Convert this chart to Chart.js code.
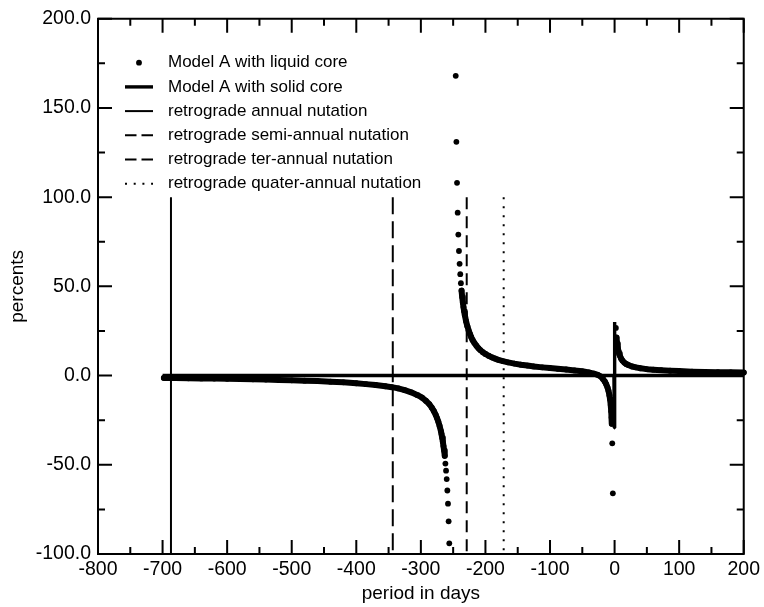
<!DOCTYPE html>
<html>
<head>
<meta charset="utf-8">
<script src="https://cdn.jsdelivr.net/npm/chart.js@4/dist/chart.umd.min.js"></script>
<style>html,body{margin:0;padding:0;background:#fff}canvas{display:block}</style>
</head>
<body>
<canvas id="c" width="764" height="607"></canvas>
<script>
// ---------------- data ----------------
const liquidX = [
  -698,-680,-660,-640,-620,-600,-580,-560,-540,-520,
  -500,-480,-460,-440,-420,-400,-385,-370,-355,-345,
  -335,-325,-315,-305,-298,-292,-287,-283,-280,-277,
  -275,-273,-271,-269,-268,-267,-266,-265,-264,-263,
  -262,-261,-260,-259,-258,-257,-256,
  -246,-245,-244,-243,-242,-241,-240,-239,-238,-237,
  -236,-235,-234,-233,-232,-230,-228,-226,-224,-222,
  -220,-217,-214,-211,-208,-204,-200,-195,-190,-185,
  -180,-173,-165,-155,-145,-135,-125,-112,-100,-88,
  -75,-62,-50,-40,-32,-26,-21,-18,-15,-13,
  -11,-9.5,-8,-7,-6,-5.2,-4.6,-4.2,-3.6,-2.7,
  2,3,4,5,6,7,8,10,12,15,
  18,22,27,33,40,50,60,72,86,100,
  120,140,160,180,200
];
const liquidY = [
  -1.3,-1.4,-1.5,-1.6,-1.7,-1.8,-1.95,-2.1,-2.25,-2.45,
  -2.65,-2.85,-3.1,-3.4,-3.8,-4.3,-4.8,-5.3,-6.0,-6.5,
  -7.2,-8.2,-9.4,-11.0,-12.4,-14.2,-16.0,-18.0,-19.8,-22.0,
  -23.8,-25.8,-28.2,-31.0,-32.8,-34.8,-37.0,-39.5,-42.0,-45.0,
  -49.3,-53.3,-58.0,-64.4,-71.8,-81.7,-94.0,
  168,131,108,91.3,79,69.8,62.6,56.8,51.8,47.6,
  44.0,41.0,38.4,36.0,34.0,30.5,27.7,25.3,23.3,21.5,
  20.0,18.2,16.7,15.4,14.3,13.1,12.1,11.1,10.2,9.5,
  8.8,8.1,7.4,6.7,6.1,5.6,5.1,4.6,4.2,3.8,
  3.4,2.9,2.4,1.8,1.1,0.4,-0.6,-1.9,-3.4,-4.8,
  -6.6,-8.5,-11,-13.3,-16.5,-20,-23.5,-27,-38,-66,
  26.7,21.3,17.9,15.5,13.7,12.3,11.3,9.6,8.5,7.3,
  6.5,5.8,5.1,4.6,4.1,3.6,3.3,3.0,2.7,2.5,
  2.2,2.0,1.9,1.8,1.7
];
const solidX = [-700, -1, -0.4, -0.1, 0.3, 200];
const solidY = [0, 0, -29.3, 30, 0, 0];
const nutationPeriods = [-687, -343.5, -229, -171.75];
const nutationSpan = [100, -100];
const seriesLabels = [
  'Model A with liquid core',
  'Model A with solid core',
  'retrograde annual nutation',
  'retrograde semi-annual nutation',
  'retrograde ter-annual nutation',
  'retrograde quater-annual nutation'
];
const xRange = [-800, 200];
const yRange = [-100, 200];
const xStep = 100;
const yStep = 50;

// ---------------- build ----------------
const FONT = '"Liberation Sans", Arial, Helvetica, sans-serif';
const toPts = (xs, ys) => xs.map((x, i) => ({x: x, y: ys[i]}));
const vline = (p) => nutationSpan.map(v => ({x: p, y: v}));

const nutationStyles = [
  {dash: [], legendDash: []},
  {dash: [17, 7], legendDash: [11.5, 5]},
  {dash: [12, 7], legendDash: [11.5, 5]},
  {dash: [2, 7], legendDash: [2, 6.7]}
];

const datasets = [
  {
    label: seriesLabels[0],
    data: toPts(liquidX, liquidY),
    showLine: true,
    borderColor: '#000',
    borderWidth: 6,
    borderJoinStyle: 'round',
    borderCapStyle: 'round',
    pointRadius: 2.9,
    pointBorderWidth: 0,
    pointBackgroundColor: '#000',
    pointHoverRadius: 2.9,
    clip: 4,
    legendMarker: 'dot',
    segment: {
      borderColor: c => Math.abs(c.p1.y - c.p0.y) > 6.5 ? 'rgba(0,0,0,0)' : '#000'
    },
    order: 2
  },
  {
    label: seriesLabels[1],
    data: toPts(solidX, solidY),
    showLine: true,
    borderColor: '#000',
    borderWidth: 3.4,
    borderJoinStyle: 'bevel',
    pointRadius: 0,
    order: 1
  }
];
nutationPeriods.forEach((p, i) => {
  datasets.push({
    label: seriesLabels[i + 2],
    data: vline(p),
    showLine: true,
    borderColor: '#000',
    borderWidth: 2,
    borderDash: nutationStyles[i].dash,
    legendDash: nutationStyles[i].legendDash,
    borderCapStyle: 'butt',
    pointRadius: 0,
    order: 3
  });
});

const legendPlugin = {
  id: 'insideLegend',
  afterDraw(chart) {
    const ctx = chart.ctx;
    const area = chart.chartArea;
    const x0 = area.left + 27, x1 = area.left + 55, tx = area.left + 70;
    let y = area.top + 44;
    const dy = 24.2;
    chart.data.datasets.forEach(ds => {
      ctx.save();
      ctx.fillStyle = '#000';
      ctx.strokeStyle = '#000';
      if (ds.legendMarker === 'dot') {
        ctx.beginPath();
        ctx.arc((x0 + x1) / 2, y, 2.9, 0, Math.PI * 2);
        ctx.fill();
      } else {
        ctx.beginPath();
        ctx.setLineDash(ds.legendDash || []);
        ctx.lineWidth = ds.borderWidth;
        ctx.lineCap = 'butt';
        ctx.moveTo(x0, y);
        ctx.lineTo(x1, y);
        ctx.stroke();
      }
      ctx.setLineDash([]);
      ctx.font = '17px ' + FONT;
      ctx.textAlign = 'left';
      ctx.textBaseline = 'middle';
      ctx.fillText(ds.label, tx, y);
      ctx.restore();
      y += dy;
    });
  }
};

const framePlugin = {
  id: 'frameTicks',
  afterDraw(chart) {
    const ctx = chart.ctx;
    const {left, right, top, bottom} = chart.chartArea;
    const xs = chart.scales.x, ys = chart.scales.y;
    const MAJ = 14, MIN = 7;
    ctx.save();
    ctx.strokeStyle = '#000';
    ctx.lineWidth = 2;
    ctx.lineCap = 'butt';
    ctx.beginPath();
    ctx.rect(left, top, right - left, bottom - top);
    ctx.stroke();
    ctx.beginPath();
    const xv = xs.ticks.map(t => t.value);
    xv.forEach((v, i) => {
      const px = xs.getPixelForValue(v);
      ctx.moveTo(px, bottom); ctx.lineTo(px, bottom - MAJ);
      ctx.moveTo(px, top); ctx.lineTo(px, top + MAJ);
      if (i < xv.length - 1) {
        const pm = xs.getPixelForValue((v + xv[i + 1]) / 2);
        ctx.moveTo(pm, bottom); ctx.lineTo(pm, bottom - MIN);
        ctx.moveTo(pm, top); ctx.lineTo(pm, top + MIN);
      }
    });
    const yv = ys.ticks.map(t => t.value);
    yv.forEach((v, i) => {
      const py = ys.getPixelForValue(v);
      ctx.moveTo(left, py); ctx.lineTo(left + MAJ, py);
      ctx.moveTo(right, py); ctx.lineTo(right - MAJ, py);
      if (i < yv.length - 1) {
        const pm = ys.getPixelForValue((v + yv[i + 1]) / 2);
        ctx.moveTo(left, pm); ctx.lineTo(left + MIN, pm);
        ctx.moveTo(right, pm); ctx.lineTo(right - MIN, pm);
      }
    });
    ctx.stroke();
    ctx.restore();
  }
};

new Chart(document.getElementById('c'), {
  type: 'scatter',
  data: {datasets: datasets},
  options: {
    responsive: false,
    animation: false,
    events: [],
    layout: {padding: {top: 13, right: 17, left: 0, bottom: 0}},
    plugins: {
      legend: {display: false},
      tooltip: {enabled: false}
    },
    scales: {
      x: {
        type: 'linear',
        min: xRange[0], max: xRange[1],
        grid: {display: false, drawTicks: false, tickLength: 0},
        border: {display: false},
        ticks: {
          stepSize: xStep, autoSkip: false, maxRotation: 0, padding: 4,
          color: '#000', font: {family: FONT, size: 19.5},
          callback: v => String(v)
        },
        title: {
          display: true, text: 'period in days', color: '#000',
          font: {family: FONT, size: 19}, padding: {top: 0, bottom: 2}
        },
        afterFit: s => { s.height = 53; }
      },
      y: {
        type: 'linear',
        min: yRange[0], max: yRange[1],
        grid: {display: false, drawTicks: false, tickLength: 0},
        border: {display: false},
        ticks: {
          stepSize: yStep, autoSkip: false, padding: 7,
          color: '#000', font: {family: FONT, size: 19.5},
          callback: v => Number(v).toFixed(1)
        },
        title: {
          display: true, text: 'percents', color: '#000',
          font: {family: FONT, size: 19}, padding: {top: 6, bottom: 0}
        },
        afterFit: s => { s.width = 98; }
      }
    }
  },
  plugins: [legendPlugin, framePlugin]
});
</script>
</body>
</html>
